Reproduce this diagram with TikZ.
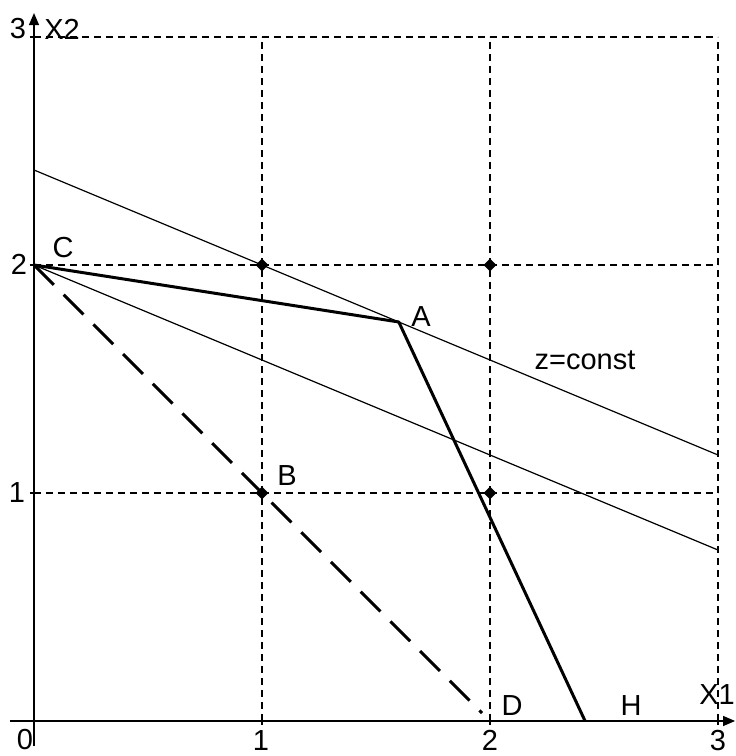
\documentclass[tikz,border=0pt]{standalone}
\usepackage{fontspec}
\setmainfont{Liberation Sans}
\usetikzlibrary{arrows.meta,shapes.geometric}
\begin{document}
\begin{tikzpicture}[x=228pt,y=228pt,
  lbl/.style={anchor=base,inner sep=0pt,font=\fontsize{29}{31}\selectfont},
  gridln/.style={line width=1.3pt,dash pattern=on 7pt off 5pt},
  axisln/.style={line width=1.3pt},
  thinln/.style={line width=1.2pt},
  thickln/.style={line width=3pt},
  thickdash/.style={line width=3pt,dash pattern=on 28pt off 14pt},
  dot/.style={shape=diamond,fill=black,inner sep=0pt,minimum size=13pt},
  tick/.style={line width=1.3pt}]
\useasboundingbox (-34pt,-35pt) rectangle (702pt,721pt);
% coordinates
\coordinate (O) at (0,0);
\coordinate (C) at (0,2);
\coordinate (A) at (1.6,1.75);
\coordinate (E) at (2.417,0);
\coordinate (D) at (1.965,0.035);
\coordinate (Z1) at (0,2.4167);
\coordinate (Z2) at (3,1.1667);
\coordinate (W2) at (3,0.75);
\coordinate (XL) at (-0.105,0);
\coordinate (XR) at (3.075,0);
\coordinate (YB) at (0,-0.11);
\coordinate (YT) at (0,3.105);
% grid
\foreach \i in {1,2,3} {
  \coordinate (gx\i) at (\i,0);
  \coordinate (gxt\i) at (\i,3);
  \coordinate (gy\i) at (0,\i);
  \coordinate (gyr\i) at (3,\i);
  \draw[gridln] (gx\i) -- (gxt\i);
  \draw[gridln] (gy\i) -- (gyr\i);
  \draw[tick] ([yshift=-4pt]gx\i) -- ([yshift=4pt]gx\i);
  \draw[tick] ([xshift=-4pt]gy\i) -- ([xshift=4pt]gy\i);
}
% axes
\draw[axisln,-{Triangle[length=12pt,width=10pt]}] (XL) -- (XR);
\draw[axisln,-{Triangle[length=12pt,width=10pt]}] (YB) -- (YT);
% thin lines
\draw[thinln] (Z1) -- (Z2);
\draw[thinln] (C) -- (W2);
% thick lines
\draw[thickln,line join=round] (C) -- (A) -- (E);
\draw[thickdash] (C) -- (D);
% diamonds
\node[dot] (p11) at (1,1) {};
\node[dot] (p21) at (2,1) {};
\node[dot] (p12) at (1,2) {};
\node[dot] (p22) at (2,2) {};
% labels
\node[lbl] (l3y) at (-16pt,682pt) {3};
\node[lbl] (lx2) at (28pt,681pt) {X2};
\node[lbl] (l2y) at (-15pt,446pt) {2};
\node[lbl] (l1y) at (-17pt,218pt) {1};
\node[lbl] (l0) at (-9pt,-29pt) {0};
\node[lbl] (l1x) at (227pt,-30pt) {1};
\node[lbl] (l2x) at (456pt,-30pt) {2};
\node[lbl] (l3x) at (684pt,-30pt) {3};
\node[lbl] (lC) at (29pt,463pt) {C};
\node[lbl] (lA) at (387pt,394pt) {A};
\node[lbl] (lB) at (253pt,235pt) {B};
\node[lbl] (lz) at (551pt,351pt) {z=const};
\node[lbl] (lD) at (478pt,5pt) {D};
\node[lbl] (lH) at (597pt,5pt) {H};
\node[lbl] (lx1) at (683pt,16pt) {X1};
\end{tikzpicture}
\end{document}
